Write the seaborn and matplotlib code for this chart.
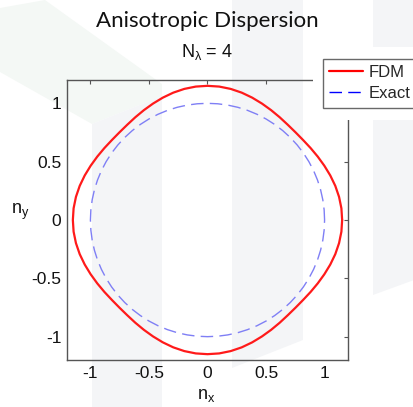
import numpy as np
import matplotlib
matplotlib.use("Agg")
import matplotlib.pyplot as plt
from matplotlib.patches import Polygon, Rectangle
from matplotlib.lines import Line2D
import seaborn as sns

# Values: radius of each curve per direction, first quadrant
angle_deg = [0, 5, 10, 15, 20, 25, 30, 35, 40, 45, 50, 55, 60, 65, 70, 75, 80, 85, 90]
fdm_r = [1.150, 1.148, 1.141, 1.130, 1.116, 1.101, 1.087, 1.075, 1.066, 1.063,
         1.066, 1.075, 1.087, 1.101, 1.116, 1.130, 1.141, 1.148, 1.150]
exact_r = [1.0, 1.0, 1.0, 1.0, 1.0, 1.0, 1.0, 1.0, 1.0, 1.0,
           1.0, 1.0, 1.0, 1.0, 1.0, 1.0, 1.0, 1.0, 1.0]
tick_vals = [-1, -0.5, 0, 0.5, 1]
tick_labels = ["-1", "-0.5", "0", "0.5", "1"]


def full_curve(quad_r):
    # the curves have four-fold symmetry, mirror the first quadrant around
    q = np.array(quad_r)
    r = np.concatenate([q, q[-2::-1], q[1:], q[-2::-1]])
    a = np.concatenate([np.array(angle_deg), 180 - np.array(angle_deg[-2::-1]),
                        180 + np.array(angle_deg[1:]), 360 - np.array(angle_deg[-2::-1])])
    a = np.radians(a)
    return r * np.cos(a), r * np.sin(a)


sns.set_style("white")
plt.rcParams["font.family"] = ["Liberation Sans", "DejaVu Sans"]
plt.rcParams["mathtext.fontset"] = "custom"
plt.rcParams["mathtext.rm"] = "Liberation Sans"
plt.rcParams["mathtext.it"] = "Liberation Sans"
plt.rcParams["axes.unicode_minus"] = False

W, H = 414, 407
fig = plt.figure(figsize=(W / 100, H / 100), dpi=100, facecolor="white")


def px(pts):
    return [(x / W, 1 - y / H) for x, y in pts]


# faint slide background shapes
bg_gray = "#f4f5f7"
bg_green = "#f4f8f5"
for pts, c in [
    ([(0, 8), (45, 0), (162, 84), (162, 96), (92, 124), (0, 72)], bg_green),
    ([(92, 124), (162, 96), (162, 407), (92, 407)], bg_gray),
    ([(232, 0), (303, 0), (303, 340), (232, 368)], bg_gray),
    ([(373, 0), (414, 0), (414, 47), (373, 47)], bg_gray),
    ([(373, 120), (414, 120), (414, 280), (373, 295)], bg_gray),
]:
    fig.patches.append(Polygon(px(pts), closed=True, transform=fig.transFigure,
                               facecolor=c, edgecolor="none", zorder=-2))

ax = fig.add_axes([67 / W, 1 - 360 / H, 281 / W, 280 / H])
ax.patch.set_alpha(0)

fx, fy = full_curve(fdm_r)
ex, ey = full_curve(exact_r)
sns.lineplot(x=fx, y=fy, sort=False, estimator=None, color="#ff1a1a", lw=1.6, ax=ax)
sns.lineplot(x=ex, y=ey, sort=False, estimator=None, color="#7f7ff5", lw=1.0,
             dashes=False, ax=ax).lines[-1].set_dashes([9, 4.5])

ax.set_xlim(-1.2, 1.2)
ax.set_ylim(-1.2, 1.2)
ax.set_xticks(tick_vals)
ax.set_xticklabels(tick_labels)
ax.set_yticks(tick_vals)
ax.set_yticklabels(tick_labels)
ax.tick_params(direction="in", length=3, width=0.8, color="#555555", labelsize=12.5,
               top=True, right=True, pad=4, labelcolor="#111111")
for s in ax.spines.values():
    s.set_color("#555555")
    s.set_linewidth(1.0)

fig.text(207 / W, 1 - 52 / H, r"N$_{\lambda}$ = 4", ha="center", va="center",
         fontsize=13, color="#111111")
fig.text(207 / W, 1 - 21 / H, "Anisotropic Dispersion", ha="center", va="center",
         fontsize=16, family=["Lato", "DejaVu Sans"], color="#111111")
fig.text(206 / W, 1 - 395 / H, r"n$_{\mathrm{x}}$", ha="center", va="center",
         fontsize=13, color="#111111")
fig.text(20 / W, 1 - 212 / H, r"n$_{\mathrm{y}}$", ha="center", va="center",
         fontsize=13, color="#111111")

# white area behind the legend hides the top-right of the box
fig.patches.append(Rectangle((313 / W, 1 - 120 / H), 101 / W, 73 / H,
                             transform=fig.transFigure, facecolor="white",
                             edgecolor="none", zorder=2))

handles = [Line2D([], [], color="#ff0000", lw=1.6),
           Line2D([], [], color="#0000ff", lw=1.0, dashes=[9, 4.5])]
leg = fig.legend(handles, ["FDM", "Exact"], loc="upper left",
                 bbox_to_anchor=(323 / W, 1 - 59 / H), fontsize=12,
                 frameon=True, fancybox=False, handlelength=2.05,
                 handletextpad=0.3, labelspacing=0.35, borderpad=0.38,
                 borderaxespad=0)
leg.get_frame().set_edgecolor("#444444")
leg.get_frame().set_linewidth(1.0)

fig.savefig("out.png", dpi=100, facecolor="white")
